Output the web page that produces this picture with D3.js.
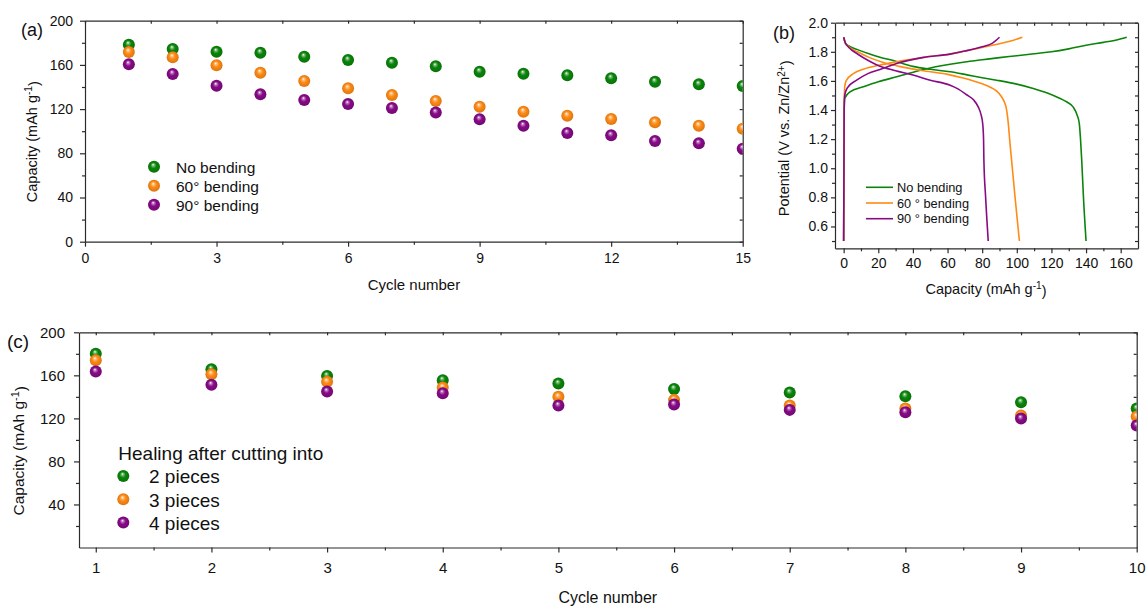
<!DOCTYPE html>
<html>
<head>
<meta charset="utf-8">
<script src="https://cdn.jsdelivr.net/npm/d3@7"></script>
<style>
  html, body { margin: 0; padding: 0; background: #fff; }
  svg { display: block; font-family: "Liberation Sans", Arial, sans-serif; }
  .axis path, .axis line { stroke: #2b2b2b; stroke-width: 1.2; }
  .axis text { fill: #111; font-family: "Liberation Sans", Arial, sans-serif; }
</style>
</head>
<body>
<svg id="chart" width="1146" height="607"></svg>
<script>
// ---------------- DATA ----------------
// Panel (a): capacity vs cycle under bending
const aCycles = [1, 2, 3, 4, 5, 6, 7, 8, 9, 10, 11, 12, 13, 14, 15];
const aNoBending = [178.3, 174.4, 172, 171, 167.4, 164.4, 162, 158.8, 153.9, 152, 150.7, 148, 144.8, 142.4, 140.9];
const a60Bending = [171.7, 166.9, 159.6, 152.9, 145.4, 138.8, 132.7, 127.3, 122.2, 117.6, 114, 111, 108, 105, 102.3];
const a90Bending = [160.5, 151.8, 141.2, 133.4, 128.2, 124.6, 121, 117, 110.8, 105, 98.4, 96.3, 91.1, 89, 84.2];
const aLegend = ["No bending", "60° bending", "90° bending"];
const aXTicks = [0, 3, 6, 9, 12, 15];
const aYTicks = [0, 40, 80, 120, 160, 200];

// Panel (b): charge/discharge profiles [capacity, potential]
const bNoCharge = [[0,0.5],[0.3,1.4],[0.6,1.48],[3.7,1.525],[11.4,1.56],[20,1.595],[30.6,1.628],[46,1.679],[61.5,1.715],[70,1.73],[80,1.745],[90,1.76],[100,1.773],[110,1.787],[120,1.8],[130,1.82],[140,1.845],[150,1.865],[157,1.88],[163.5,1.9]];
const bNoDischarge = [[0,1.9],[1,1.86],[3,1.84],[8,1.815],[15,1.785],[20,1.766],[30,1.735],[40,1.7],[50,1.68],[61.5,1.663],[70,1.645],[80,1.622],[88.4,1.605],[100,1.578],[109.5,1.548],[118,1.515],[125,1.479],[129,1.455],[132.6,1.42],[134.7,1.37],[136.1,1.307],[136.8,1.2],[137.5,1.055],[138.5,0.8],[140,0.5]];
const b60Charge = [[0,0.5],[0.3,1.4],[0.6,1.56],[1.4,1.6],[5.6,1.65],[11.4,1.68],[21,1.709],[30,1.73],[40,1.75],[50,1.768],[61.5,1.785],[70,1.805],[80,1.83],[88,1.85],[96,1.872],[103.2,1.9]];
const b60Discharge = [[0,1.9],[1,1.86],[3,1.835],[8,1.8],[15,1.76],[22,1.73],[32,1.7],[45,1.672],[60,1.645],[69,1.62],[75,1.6],[80,1.58],[85,1.555],[88.4,1.53],[91,1.495],[93,1.45],[93.8,1.42],[94.5,1.37],[95.1,1.307],[96,1.18],[97,1.054],[99,0.8],[101.5,0.5]];
const b90Charge = [[0,0.5],[0.3,1.4],[0.6,1.5],[2,1.55],[7.5,1.605],[14,1.65],[21,1.679],[30.6,1.72],[46,1.762],[61.5,1.784],[70,1.805],[80,1.835],[86,1.86],[90,1.9]];
const b90Discharge = [[0,1.9],[1,1.86],[3,1.83],[8,1.785],[15,1.735],[21,1.7],[30,1.67],[40,1.64],[50,1.605],[61.5,1.57],[66,1.545],[71,1.505],[75,1.47],[77.8,1.42],[79.3,1.37],[80.3,1.307],[80.8,1.2],[81,1.054],[82,0.8],[83.5,0.5]];
const bLegend = ["No bending", "60 ° bending", "90 ° bending"];
const bXTicks = [0, 20, 40, 60, 80, 100, 120, 140, 160];
const bYTicks = [0.6, 0.8, 1.0, 1.2, 1.4, 1.6, 1.8, 2.0];

// Panel (c): healing after cutting
const cCycles = [1, 2, 3, 4, 5, 6, 7, 8, 9, 10];
const c2Pieces = [180, 165.7, 159.5, 155.5, 152.4, 147.4, 144, 140.6, 135, 129.1];
const c3Pieces = [174.1, 161.1, 154, 148.7, 140, 137.2, 131.9, 129.1, 122.6, 121.7];
const c4Pieces = [163.5, 151.2, 145, 143.4, 131.9, 132.9, 127.9, 125.8, 119.8, 113.3];
const cLegendTitle = "Healing after cutting into";
const cLegend = ["2 pieces", "3 pieces", "4 pieces"];
const cXTicks = [1, 2, 3, 4, 5, 6, 7, 8, 9, 10];
const cYTicks = [40, 80, 120, 160, 200];

const colors = ["#0a850a", "#ff8a14", "#870a87"];

// ---------------- DRAW ----------------
const svg = d3.select("#chart");
const defs = svg.append("defs");
colors.forEach((c, i) => {
  const g = defs.append("radialGradient").attr("id", "ball" + i)
    .attr("cx", "50%").attr("cy", "50%").attr("r", "55%")
    .attr("fx", "42%").attr("fy", "32%");
  g.append("stop").attr("offset", "0%").attr("stop-color", "#ffffff");
  g.append("stop").attr("offset", "18%").attr("stop-color", d3.interpolateRgb("#ffffff", c)(0.55));
  g.append("stop").attr("offset", "45%").attr("stop-color", c);
  g.append("stop").attr("offset", "100%").attr("stop-color", d3.color(c).darker(0.5));
});

const FONT = '"Liberation Sans", Arial, sans-serif';

function frame(g, x, y, o) {
  const [x0, x1] = x.range();
  const [y0, y1] = y.range();
  g.append("g").attr("class", "axis").attr("transform", `translate(0,${y0})`)
    .call(d3.axisBottom(x).tickValues(o.xMajor).tickSize(5).tickSizeOuter(0).tickPadding(o.xPad).tickFormat(o.xFmt || d3.format("d")))
    .call(s => s.selectAll("text").style("font-size", o.tickFont + "px"));
  g.append("g").attr("class", "axis").attr("transform", `translate(0,${y0})`)
    .call(d3.axisBottom(x).tickValues(o.xMinor).tickSize(3).tickSizeOuter(0).tickFormat(""))
    .call(s => s.select(".domain").remove());
  g.append("g").attr("class", "axis").attr("transform", `translate(${x0},0)`)
    .call(d3.axisLeft(y).tickValues(o.yMajor).tickSize(o.yTick || 5).tickSizeOuter(0).tickPadding(o.yPad).tickFormat(o.yFmt || d3.format("d")))
    .call(s => s.selectAll("text").style("font-size", o.tickFont + "px"));
  g.append("g").attr("class", "axis").attr("transform", `translate(${x0},0)`)
    .call(d3.axisLeft(y).tickValues(o.yMinor).tickSize(3).tickSizeOuter(0).tickFormat(""))
    .call(s => s.select(".domain").remove());
  g.append("g").attr("class", "axis").attr("transform", `translate(0,${y1})`)
    .call(d3.axisTop(x).tickValues(o.xMajor.concat(o.xMinor)).tickSize(-3).tickSizeOuter(0).tickFormat(""));
  g.append("g").attr("class", "axis").attr("transform", `translate(${x1},0)`)
    .call(d3.axisRight(y).tickValues(o.yMajor.concat(o.yMinor)).tickSize(-3).tickSizeOuter(0).tickFormat(""));
}

function clipFor(id, x, y) {
  const [x0, x1] = x.range();
  const [y0, y1] = y.range();
  defs.append("clipPath").attr("id", id).append("rect")
    .attr("x", x0).attr("y", y1).attr("width", x1 - x0).attr("height", y0 - y1);
}

function capTitle(sel, size) {
  sel.style("font-size", size + "px").style("font-family", FONT).attr("fill", "#111");
  sel.append("tspan").text("Capacity (mAh g");
  sel.append("tspan").text("-1").attr("dy", "-0.45em").style("font-size", (size * 0.7) + "px");
  sel.append("tspan").text(")").attr("dy", "0.45em");
}

// ----- Panel (a)
const ax = d3.scaleLinear().domain([0, 15]).range([85, 742.7]);
const ay = d3.scaleLinear().domain([0, 200]).range([241.7, 20.7]);
const ga = svg.append("g");
clipFor("clipA", ax, ay);
frame(ga, ax, ay, {
  xMajor: aXTicks, xMinor: [1.5, 4.5, 7.5, 10.5, 13.5], yMajor: aYTicks, yMinor: [20, 60, 100, 140, 180],
  xPad: 6.5, yPad: 7, tickFont: 14
});
const aSeries = [aNoBending, a60Bending, a90Bending];
const aPts = ga.append("g").attr("clip-path", "url(#clipA)");
aSeries.forEach((vals, i) => {
  aPts.selectAll(null).data(vals).enter().append("circle")
    .attr("cx", (d, j) => ax(aCycles[j])).attr("cy", d => ay(d)).attr("r", 6)
    .attr("fill", `url(#ball${i})`);
});
const aLeg = ga.append("g");
aLegend.forEach((t, i) => {
  const yy = 166.7 + i * 19;
  aLeg.append("circle").attr("cx", 154).attr("cy", yy).attr("r", 6).attr("fill", `url(#ball${i})`);
  aLeg.append("text").attr("x", 176).attr("y", yy + 6).text(t)
    .style("font-size", "15.5px").style("font-family", FONT).attr("fill", "#111");
});
ga.append("text").attr("x", 413.9).attr("y", 290).attr("text-anchor", "middle").text("Cycle number")
  .style("font-size", "15px").style("font-family", FONT).attr("fill", "#111");
capTitle(ga.append("text").attr("transform", "translate(37,141.7) rotate(-90)").attr("text-anchor", "middle"), 14.5);
ga.append("text").attr("x", 21).attr("y", 36).text("(a)").style("font-size", "18px").style("font-family", FONT).attr("fill", "#111");

// ----- Panel (b)
const bx = d3.scaleLinear().domain([-5, 170]).range([835, 1138]);
const by = d3.scaleLinear().domain([0.45, 2.0]).range([248.3, 22.7]);
const gb = svg.append("g");
clipFor("clipB", bx, by);
frame(gb, bx, by, {
  xMajor: bXTicks, xMinor: [10, 30, 50, 70, 90, 110, 130, 150], yMajor: bYTicks, yMinor: [0.5, 0.7, 0.9, 1.1, 1.3, 1.5, 1.7, 1.9],
  xPad: 5, yPad: 3, yTick: 4, tickFont: 14, yFmt: d3.format(".1f")
});
const line = d3.line().x(d => bx(d[0])).y(d => by(d[1])).curve(d3.curveMonotoneX);
const bCurves = [[bNoCharge, 0], [bNoDischarge, 0], [b60Charge, 1], [b60Discharge, 1], [b90Charge, 2], [b90Discharge, 2]];
const bLines = gb.append("g").attr("clip-path", "url(#clipB)");
bCurves.forEach(([pts, ci]) => {
  bLines.append("path").datum(pts).attr("d", line).attr("fill", "none")
    .attr("stroke", colors[ci]).attr("stroke-width", 1.6);
});
bLegend.forEach((t, i) => {
  const yy = 187.3 + i * 15.7;
  gb.append("line").attr("x1", 866).attr("x2", 893).attr("y1", yy).attr("y2", yy)
    .attr("stroke", colors[i]).attr("stroke-width", 1.6);
  gb.append("text").attr("x", 897).attr("y", yy + 4.5).text(t)
    .style("font-size", "12.8px").style("font-family", FONT).attr("fill", "#111");
});
capTitle(gb.append("text").attr("x", 986).attr("y", 294).attr("text-anchor", "middle"), 14.5);
{
  const t = gb.append("text").attr("transform", "translate(789,138.3) rotate(-90)").attr("text-anchor", "middle")
    .style("font-size", "14.5px").style("font-family", FONT).attr("fill", "#111");
  t.append("tspan").text("Potential (V vs. Zn/Zn");
  t.append("tspan").text("2+").attr("dy", "-0.45em").style("font-size", "10px");
  t.append("tspan").text(")").attr("dy", "0.45em");
}
gb.append("text").attr("x", 773).attr("y", 39).text("(b)").style("font-size", "18px").style("font-family", FONT).attr("fill", "#111");

// ----- Panel (c)
const cx = d3.scaleLinear().domain([0.855, 10]).range([79, 1136.7]);
const cy = d3.scaleLinear().domain([0, 200]).range([547.5, 332.3]);
const gc = svg.append("g");
clipFor("clipC", cx, cy);
frame(gc, cx, cy, {
  xMajor: cXTicks, xMinor: [1.5, 2.5, 3.5, 4.5, 5.5, 6.5, 7.5, 8.5, 9.5], yMajor: cYTicks, yMinor: [20, 60, 100, 140, 180],
  xPad: 10, yPad: 9, tickFont: 15
});
const cSeries = [c2Pieces, c3Pieces, c4Pieces];
const cPts = gc.append("g").attr("clip-path", "url(#clipC)");
cSeries.forEach((vals, i) => {
  cPts.selectAll(null).data(vals).enter().append("circle")
    .attr("cx", (d, j) => cx(cCycles[j])).attr("cy", d => cy(d)).attr("r", 6)
    .attr("fill", `url(#ball${i})`);
});
gc.append("text").attr("x", 118.3).attr("y", 460).text(cLegendTitle)
  .style("font-size", "19px").style("font-family", FONT).attr("fill", "#111");
cLegend.forEach((t, i) => {
  const yy = 476 + i * 23.3;
  gc.append("circle").attr("cx", 123.3).attr("cy", yy).attr("r", 6).attr("fill", `url(#ball${i})`);
  gc.append("text").attr("x", 149).attr("y", yy + 7.3).text(t)
    .style("font-size", "19px").style("font-family", FONT).attr("fill", "#111");
});
gc.append("text").attr("x", 607.8).attr("y", 602.7).attr("text-anchor", "middle").text("Cycle number")
  .style("font-size", "16px").style("font-family", FONT).attr("fill", "#111");
capTitle(gc.append("text").attr("transform", "translate(24,450.8) rotate(-90)").attr("text-anchor", "middle"), 15.5);
gc.append("text").attr("x", 7).attr("y", 348).text("(c)").style("font-size", "19px").style("font-family", FONT).attr("fill", "#111");
</script>
</body>
</html>
